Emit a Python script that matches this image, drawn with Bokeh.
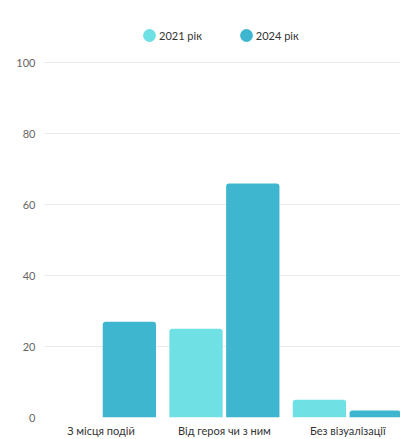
from bokeh.plotting import figure
from bokeh.models import ColumnDataSource, FixedTicker, Legend, LegendItem, Range1d
from bokeh.transform import dodge
from bokeh.embed import file_html
from bokeh.resources import INLINE

# Data
categories = ["З місця подій", "Від героя чи з ним", "Без візуалізації"]
series_names = ["2021 рік", "2024 рік"]
values_2021 = [0, 25, 5]
values_2024 = [27, 66, 2]
y_ticks = [0, 20, 40, 60, 80, 100]

color_2021 = "#6fe0e3"
color_2024 = "#3fb6d0"
font = "Lato"

positions = list(range(1, len(categories) + 1))
source = ColumnDataSource(dict(pos=positions, v2021=values_2021, v2024=values_2024))

p = figure(
    width=400, height=439,
    x_range=Range1d(0.534, 3.427),
    y_range=Range1d(0, 114.8),
    output_backend="svg", toolbar_location=None,
    min_border_left=43, min_border_right=0, min_border_top=10, min_border_bottom=20,
)
p.outline_line_color = None
p.background_fill_color = "white"
p.border_fill_color = "white"

bar_w = 0.432
offset = 0.230
radius = (3, 3, 0, 0)
r1 = p.vbar(x=dodge("pos", -offset), top="v2021", width=bar_w, source=source,
            fill_color=color_2021, line_color=None, border_radius=radius)
r2 = p.vbar(x=dodge("pos", offset), top="v2024", width=bar_w, source=source,
            fill_color=color_2024, line_color=None, border_radius=radius)

# round legend swatches (NaN centres are never drawn in the plot area)
nan = float("nan")
swatch = dict(width=13, height=13, width_units="screen", height_units="screen", line_color=None)
d1 = p.ellipse(x=[nan], y=[nan], fill_color=color_2021, **swatch)
d2 = p.ellipse(x=[nan], y=[nan], fill_color=color_2024, **swatch)
legend = Legend(
    items=[LegendItem(label=series_names[0], renderers=[d1]),
           LegendItem(label=series_names[1], renderers=[d2])],
    orientation="horizontal", location=(98, 374),
    glyph_width=16, glyph_height=16, label_height=16, label_standoff=2, spacing=36,
    padding=0, margin=0, border_line_color=None, background_fill_alpha=0,
    label_text_font=font, label_text_font_size="11px", label_text_color="#333333",
)
p.add_layout(legend)

# axes
p.xaxis.ticker = FixedTicker(ticks=positions)
p.xaxis.major_label_overrides = {pos: name for pos, name in zip(positions, categories)}
p.yaxis.ticker = FixedTicker(ticks=y_ticks)
for ax in (p.xaxis[0], p.yaxis[0]):
    ax.axis_line_color = None
    ax.major_tick_line_color = None
    ax.minor_tick_line_color = None
    ax.major_tick_out = 0
    ax.major_tick_in = 0
    ax.minor_tick_out = 0
    ax.minor_tick_in = 0
    ax.major_label_text_font = font
    ax.major_label_text_font_size = "11px"
p.xaxis.major_label_text_color = "#333333"
p.yaxis.major_label_text_color = "#666666"
p.xaxis.major_label_standoff = 6
p.yaxis.major_label_standoff = 8

p.xgrid.grid_line_color = None
p.ygrid.ticker = FixedTicker(ticks=y_ticks)
p.ygrid.grid_line_color = "#ebebeb"
p.ygrid.grid_line_width = 1

open("out.html", "w").write(file_html(p, INLINE))
